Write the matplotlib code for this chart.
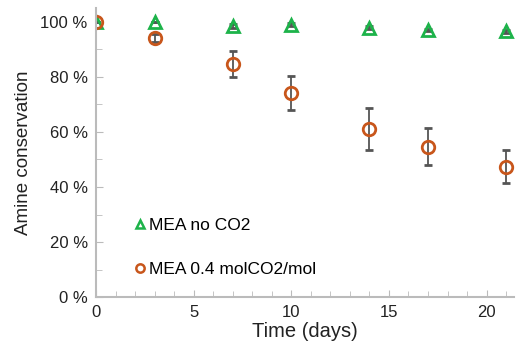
import numpy as np
import matplotlib.pyplot as plt
from matplotlib.lines import Line2D
from matplotlib.ticker import MultipleLocator, PercentFormatter

plt.rcParams['font.family'] = ['Liberation Sans', 'DejaVu Sans']

days = [0, 3, 7, 10, 14, 17, 21]
no_co2 = [100, 100, 98.5, 99, 97.8, 97.0, 96.5]
no_co2_err = [0, 0, 0.8, 0.6, 0.5, 0.5, 0.6]
loaded = [100, 94.2, 84.7, 74.1, 61.1, 54.7, 47.4]
loaded_err = [0, 1.5, 4.8, 6.2, 7.5, 6.6, 6.1]

fig = plt.figure(figsize=(5.16, 3.5), dpi=100)
ax = fig.add_axes([0.186, 0.151, 0.81, 0.826])

green = '#1db34a'
orange = '#c8561b'
ax.errorbar(days, no_co2, yerr=no_co2_err, fmt='^', ms=8, mfc='none', mec=green,
            mew=2, ecolor='#555555', elinewidth=1.3, capsize=3)
ax.errorbar(days, loaded, yerr=loaded_err, fmt='o', ms=9, mfc='none', mec=orange,
            mew=2, ecolor='#555555', elinewidth=1.3, capsize=3)

ax.set_xlim(0, 21.4)
ax.set_ylim(0, 105)
ax.xaxis.set_major_locator(MultipleLocator(5))
ax.xaxis.set_minor_locator(MultipleLocator(1))
ax.yaxis.set_major_locator(MultipleLocator(20))
ax.yaxis.set_minor_locator(MultipleLocator(10))
ax.yaxis.set_major_formatter(PercentFormatter(decimals=0, symbol=' %'))
ax.tick_params(which='both', direction='in', color='#bbbbbb', labelsize=12,
               labelcolor='#222222')
ax.tick_params(which='major', length=5, pad=6)
ax.tick_params(which='minor', length=4)
for s in ['top', 'right']:
    ax.spines[s].set_visible(False)
for s in ['left', 'bottom']:
    ax.spines[s].set_color('#bbbbbb')
    ax.spines[s].set_linewidth(1.5)

ax.set_xlabel('Time (days)', fontsize=14.5, color='#222222', labelpad=1)
ax.set_ylabel('Amine conservation', fontsize=13.5, color='#222222', labelpad=6)

handles = [
    Line2D([], [], ls='none', marker='^', ms=6, mfc='none', mec=green, mew=1.8),
    Line2D([], [], ls='none', marker='o', ms=6, mfc='none', mec=orange, mew=1.8),
]
ax.legend(handles, ['MEA no CO2', 'MEA 0.4 molCO2/mol'], loc='lower left',
          bbox_to_anchor=(0.055, 0.016), frameon=False, fontsize=12.5,
          handlelength=0.6, handletextpad=0.25, labelspacing=1.65)

fig.savefig('out.png', dpi=100)
